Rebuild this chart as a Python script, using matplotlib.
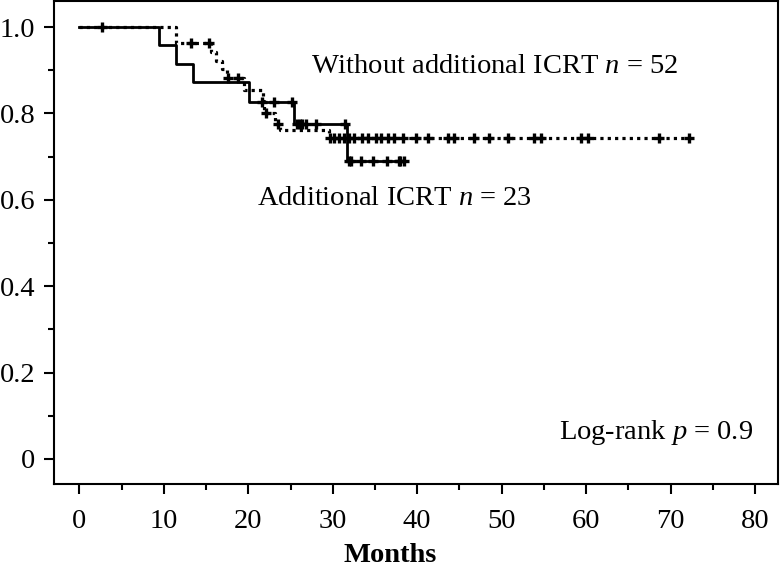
import matplotlib
matplotlib.use('Agg')
import matplotlib.pyplot as plt
import numpy as np
from matplotlib.ticker import MultipleLocator, FuncFormatter

# Kaplan-Meier step curves (months, survival)
add_times = [0, 9.4, 11.5, 13.5, 20.1, 25.4, 31.7, 38.4]
add_surv = [1.0, 0.958, 0.915, 0.872, 0.826, 0.775, 0.689, 0.689]
add_cens = [21.6, 23.0, 25.2, 25.8, 26.1, 26.4, 26.8, 28.0, 31.4,
            31.9, 32.1, 33.3, 34.8, 36.4, 37.8, 38.0, 38.4]

wo_times = [0, 11.5, 15.6, 16.2, 16.9, 17.5, 19.5, 21.7, 21.9, 23.2,
            23.8, 29.5, 72.2]
wo_surv = [1.0, 0.962, 0.942, 0.922, 0.903, 0.883, 0.855, 0.828, 0.800,
           0.775, 0.761, 0.742, 0.742]
wo_cens = [2.7, 13.2, 15.4, 17.6, 18.8, 22.1, 23.5, 29.7, 30.1, 30.7,
           31.3, 31.9, 32.5, 33.5, 34.2, 35.1, 35.7, 36.5, 37.2, 38.3,
           39.8, 41.3, 43.6, 44.3, 46.7, 48.5, 50.7, 53.8, 54.6, 59.4,
           60.2, 68.6, 72.2]


def surv_at(times, surv, t):
    idx = np.searchsorted(times, t, side='right') - 1
    return np.asarray(surv)[idx]


plt.rcParams['font.family'] = ['Liberation Serif', 'DejaVu Serif']
plt.rcParams['mathtext.fontset'] = 'custom'
plt.rcParams['mathtext.rm'] = 'Liberation Serif'
plt.rcParams['mathtext.it'] = 'Liberation Serif:italic'

fig = plt.figure(figsize=(7.8, 5.72), dpi=100)
ax = fig.add_axes([0.0692, 0.1538, 0.9282, 0.8442])

# Without additional ICRT (dotted)
ax.step(wo_times, wo_surv, where='post', color='black', lw=2.3,
        linestyle=(0, (1, 1.3)), zorder=2)
ax.plot(wo_cens, surv_at(wo_times, wo_surv, wo_cens), '+', color='black',
        ms=7.5, mew=2.4, zorder=3)

# Additional ICRT (solid)
ax.step(add_times, add_surv, where='post', color='black', lw=2.0, zorder=4)
ax.plot(add_cens, surv_at(add_times, add_surv, add_cens), '+',
        color='black', ms=7.5, mew=2.4, zorder=5)

ax.text(49.2, 0.893, r'Without additional ICRT $n$ = 52', fontsize=20.5,
        ha='center', va='baseline')
ax.text(37.3, 0.587, r'Additional ICRT $n$ = 23', fontsize=20.5,
        ha='center', va='baseline')
ax.text(68.3, 0.046, r'Log-rank $p$ = 0.9', fontsize=20.5,
        ha='center', va='baseline')

ax.set_xlim(-3, 82.7)
ax.set_ylim(-0.058, 1.06)
ax.xaxis.set_major_locator(MultipleLocator(10))
ax.xaxis.set_minor_locator(MultipleLocator(5))
ax.yaxis.set_major_locator(MultipleLocator(0.2))
ax.yaxis.set_minor_locator(MultipleLocator(0.1))
ax.yaxis.set_major_formatter(
    FuncFormatter(lambda v, p: '0' if abs(v) < 1e-9 else '{:.1f}'.format(v)))

for sp in ax.spines.values():
    sp.set_linewidth(1.5)
ax.tick_params(which='major', direction='out', length=7, width=1.5,
               labelsize=20.5)
ax.tick_params(axis='x', which='major', pad=11)
ax.tick_params(axis='y', which='major', pad=6.5)
ax.tick_params(which='minor', direction='out', length=4.5, width=1.5)

fig.text(390 / 780, 1 - 562 / 572, 'Months', fontsize=20.5,
         fontweight='bold', ha='center', va='baseline')

fig.savefig('out.png', dpi=100)
